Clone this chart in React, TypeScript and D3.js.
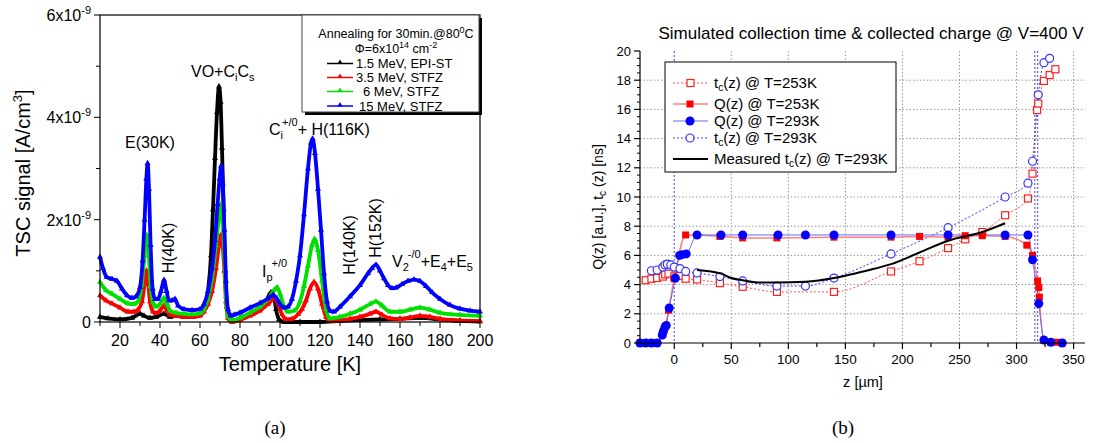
import React from "react";
import * as d3 from "d3";

// ---------- panel (a): TSC spectra, values in 1e-9 A/cm^3 ----------
const tscEpi15 = [
  [10, 0.1], [14, 0.07], [20, 0.05], [26, 0.08], [30, 0.16], [32, 0.12], [35, 0.08], [38, 0.1],
  [42, 0.16], [45, 0.1], [48, 0.12], [52, 0.1], [56, 0.1], [60, 0.14], [62, 0.25], [64, 0.6],
  [65.5, 1.3], [66.5, 2.2], [67.5, 3.2], [68.5, 4.1], [69.5, 4.6], [70.3, 4.3], [71, 3.4],
  [71.8, 2.2], [72.6, 1.0], [73.5, 0.3], [75, 0.05], [77, 0.02], [80, 0.08], [85, 0.15],
  [90, 0.25], [93, 0.4], [95.5, 0.58], [97, 0.5], [98, 0.25], [99.5, 0.05], [102, 0.0],
  [110, 0.0], [120, 0.0], [130, 0.02], [140, 0.04], [150, 0.05], [160, 0.06], [170, 0.08],
  [180, 0.05], [190, 0.02], [200, 0.01],
];
const tscStfz35 = [
  [10, 0.52], [13, 0.42], [16, 0.36], [20, 0.28], [24, 0.2], [27, 0.2], [29, 0.24], [31, 0.4],
  [32.3, 0.75], [33.2, 1.0], [34, 0.8], [35, 0.4], [36.5, 0.2], [38, 0.17], [40, 0.22], [42, 0.32],
  [43.5, 0.22], [45, 0.14], [48, 0.12], [52, 0.1], [56, 0.1], [60, 0.12], [62, 0.2], [64, 0.35],
  [66, 0.6], [68, 1.05], [69.5, 1.5], [70.5, 1.7], [71.3, 1.5], [72.2, 1.0], [73, 0.4], [74, 0.08],
  [76, 0.0], [80, 0.04], [85, 0.12], [90, 0.22], [94, 0.35], [97, 0.45], [99, 0.35], [101, 0.15],
  [103, 0.05], [106, 0.06], [109, 0.15], [111, 0.25], [113, 0.42], [115, 0.65], [117, 0.78],
  [119, 0.65], [121, 0.35], [123, 0.1], [125, 0.02], [130, 0.03], [135, 0.06], [140, 0.1],
  [145, 0.16], [148, 0.2], [151, 0.14], [155, 0.07], [160, 0.06], [165, 0.09], [170, 0.12],
  [175, 0.1], [180, 0.06], [190, 0.03], [200, 0.02],
];
const tscStfz6 = [
  [10, 0.78], [13, 0.62], [16, 0.55], [20, 0.45], [24, 0.36], [27, 0.35], [29, 0.4], [31, 0.75],
  [32.3, 1.3], [33.3, 1.7], [34.3, 1.4], [35.3, 0.7], [36.5, 0.38], [38, 0.3], [40, 0.35],
  [42, 0.47], [43.5, 0.35], [45, 0.22], [48, 0.18], [52, 0.16], [56, 0.15], [60, 0.17], [62, 0.25],
  [64, 0.45], [66, 0.85], [68, 1.5], [69.5, 2.05], [70.5, 2.3], [71.3, 2.0], [72.2, 1.3], [73, 0.5],
  [74, 0.12], [76, 0.03], [80, 0.08], [85, 0.18], [90, 0.3], [94, 0.45], [97, 0.62], [98.5, 0.68],
  [100, 0.55], [102, 0.3], [104, 0.2], [107, 0.22], [110, 0.4], [112, 0.7], [114, 1.1], [116, 1.5],
  [117.3, 1.62], [119, 1.4], [121, 0.8], [123, 0.25], [125, 0.07], [130, 0.1], [135, 0.16],
  [140, 0.24], [145, 0.35], [148, 0.4], [151, 0.32], [155, 0.2], [160, 0.2], [165, 0.24],
  [170, 0.28], [175, 0.24], [180, 0.18], [190, 0.14], [200, 0.12],
];
const tscStfz15 = [
  [10, 1.27], [11.5, 1.05], [13.3, 0.88], [16, 0.84], [18.5, 0.8], [21, 0.65], [23.5, 0.52],
  [26, 0.47], [28, 0.5], [30, 0.68], [31.3, 1.2], [32.3, 2.0], [33.2, 2.8], [33.8, 3.1], [34.5, 2.6],
  [35.3, 1.5], [36.3, 0.65], [37.5, 0.45], [39, 0.45], [40.5, 0.6], [42, 0.82], [43.3, 0.6],
  [44.5, 0.42], [46, 0.42], [47.5, 0.45], [49, 0.32], [52, 0.25], [56, 0.23], [60, 0.25], [62, 0.35],
  [64, 0.6], [66, 1.05], [67.5, 1.6], [68.8, 2.3], [69.8, 2.8], [70.6, 3.05], [71.4, 2.7],
  [72.2, 1.8], [73, 0.8], [74, 0.25], [75.5, 0.12], [77, 0.14], [80, 0.18], [85, 0.28], [90, 0.37],
  [94, 0.46], [96.5, 0.53], [98.5, 0.45], [100, 0.35], [102, 0.28], [104, 0.3], [106, 0.45],
  [108, 0.8], [110, 1.3], [112, 2.1], [114, 3.0], [115.5, 3.5], [116.3, 3.58], [117.5, 3.3],
  [119, 2.6], [120.5, 1.8], [122, 0.95], [123.5, 0.4], [125, 0.22], [127, 0.2], [130, 0.3],
  [135, 0.5], [140, 0.72], [144, 0.95], [146, 1.05], [148, 1.12], [150, 1.0], [152, 0.85],
  [154, 0.72], [156, 0.66], [158, 0.67], [161, 0.74], [164, 0.8], [167, 0.83], [170, 0.8],
  [173, 0.7], [176, 0.58], [180, 0.45], [185, 0.33], [190, 0.26], [195, 0.22], [200, 0.2],
];
const tscSeries = [
  { label: "1.5 MeV, EPI-ST", color: "#000000", data: tscEpi15, indent: 0 },
  { label: "3.5 MeV, STFZ", color: "#ff0000", data: tscStfz35, indent: 0 },
  { label: "6 MeV, STFZ", color: "#00e000", data: tscStfz6, indent: 7 },
  { label: "15 MeV, STFZ", color: "#0000ff", data: tscStfz15, indent: 3 },
];
const tempMajor = [20, 40, 60, 80, 100, 120, 140, 160, 180, 200];
const tempMinor = [10, 30, 50, 70, 90, 110, 130, 150, 170, 190];
const tscMajor = [0, 2, 4, 6];
const tscMinor = [1, 3, 5];

// ---------- panel (b): collection time / charge ----------
const tc253 = [
  [-25, 4.3], [-20, 4.4], [-15, 4.45], [-10, 4.55], [-8, 4.7], [-5, 4.75], [0, 4.55], [5, 4.6],
  [10, 4.4], [20, 4.35], [40, 4.1], [60, 3.85], [90, 3.5], [140, 3.5], [190, 4.9], [215, 5.6],
  [240, 6.5], [255, 7.1], [270, 7.6], [290, 8.75], [310, 9.9], [314, 11.6], [318, 15.95],
  [319, 16.4], [324, 17.95], [329, 18.35], [334, 18.75],
];
const q253 = [
  [-30, 0], [-25, 0], [-20, 0], [-15, 0], [-10, 0.6], [-9, 0.9], [-8, 1.1], [-5, 2.25], [0, 4.4],
  [10, 7.4], [40, 7.3], [60, 7.2], [90, 7.2], [140, 7.25], [190, 7.25], [215, 7.3], [240, 7.25],
  [255, 7.35], [270, 7.35], [290, 7.3], [309, 6.7], [314, 6.0], [318.5, 4.25], [319.5, 3.8],
  [320, 3.15], [324, 0.2], [330, 0.05], [335, 0.05], [340, 0],
];
const q293 = [
  [-30, 0], [-25, 0], [-20, 0], [-15, 0], [-10.5, 0.55], [-9.6, 0.8], [-8, 1.1], [-7, 1.2],
  [-4.4, 2.4], [1, 4.45], [4.7, 6.0], [6.7, 6.05], [10.5, 6.1], [20, 7.4], [41, 7.4], [60, 7.4],
  [91, 7.4], [115, 7.4], [140, 7.4], [190, 7.4], [240, 7.4], [290, 7.4], [310, 7.4], [314, 5.7],
  [319.5, 2.7], [324, 0.2], [330, 0.05], [340, 0],
];
const tc293 = [
  [-20, 4.95], [-15, 5.0], [-10, 5.2], [-8, 5.35], [-6, 5.4], [-3, 5.35], [0, 5.2], [5, 5.1],
  [10, 4.9], [20, 4.8], [40, 4.55], [60, 4.25], [90, 3.9], [115, 3.9], [140, 4.45], [190, 6.1],
  [240, 7.9], [290, 10.0], [310, 10.95], [314, 12.45], [319, 17.0], [324, 19.2], [329, 19.5],
];
const tcMeasured = [
  [20, 5.0], [41, 4.75], [50, 4.45], [60, 4.3], [73, 4.15], [90, 4.15], [115, 4.2], [140, 4.45],
  [160, 4.8], [171, 5.0], [190, 5.4], [215, 6.2], [240, 7.0], [270, 7.6], [290, 8.2],
];
const zMajor = [0, 50, 100, 150, 200, 250, 300, 350];
const zMinor = [-25, 25, 75, 125, 175, 225, 275, 325];
const qMajor = [0, 2, 4, 6, 8, 10, 12, 14, 16, 18, 20];
const depletionEdges = [0, 316, 318.5];

const SANS = "Liberation Sans, Arial, sans-serif";

export default function App() {
  // panel (a) scales
  const xL = d3.scaleLinear().domain([10, 200]).range([100, 480]);
  const yL = d3.scaleLinear().domain([0, 6]).range([322, 15]);
  const lineL = d3
    .line<number[]>()
    .x((d) => xL(d[0]))
    .y((d) => yL(d[1]))
    .curve(d3.curveMonotoneX);
  const tri = d3.symbol().type(d3.symbolTriangle).size(16)();
  const triLegend = d3.symbol().type(d3.symbolTriangle).size(12)();

  // panel (b) scales
  const xR = d3.scaleLinear().domain([-30, 360]).range([640, 1085]);
  const yR = d3.scaleLinear().domain([0, 20]).range([343, 51]);
  const lineR = d3
    .line<number[]>()
    .x((d) => xR(d[0]))
    .y((d) => yR(d[1]));
  const smoothR = lineR.curve(d3.curveMonotoneX);
  const qMinor = d3.range(0, 20.01, 0.5).filter((v) => v % 2 !== 0);

  const openSquare = (d: number[], i: number) => (
    <rect key={i} x={xR(d[0]) - 3.5} y={yR(d[1]) - 3.5} width={7} height={7}
      fill="white" stroke="#ff2020" strokeWidth={1.2} />
  );
  const fullSquare = (d: number[], i: number) => (
    <rect key={i} x={xR(d[0]) - 3.5} y={yR(d[1]) - 3.5} width={7} height={7} fill="#ff0000" />
  );

  return (
    <svg width={1107} height={443} style={{ position: "absolute", left: 0, top: 0, background: "white" }}
      fontFamily={SANS}>
      {/* ================= panel (a) ================= */}
      <g>
        {tscSeries.map((s) => (
          <g key={s.label}>
            <path d={lineL(s.data) || ""} fill="none" stroke={s.color} strokeWidth={3.8} />
            {s.data.map((d, i) => (
              <path key={i} d={tri} transform={`translate(${xL(d[0])},${yL(d[1])})`} fill={s.color} />
            ))}
          </g>
        ))}

        {/* frame */}
        <rect x={100} y={15} width={380} height={307} fill="none" stroke="#000" strokeWidth={1.2} />
        {tempMajor.map((t) => (
          <g key={t}>
            <line x1={xL(t)} x2={xL(t)} y1={322} y2={328} stroke="#000" />
            <text x={xL(t)} y={346} fontSize={16} textAnchor="middle">{t}</text>
          </g>
        ))}
        {tempMinor.map((t) => (
          <line key={t} x1={xL(t)} x2={xL(t)} y1={322} y2={326} stroke="#000" />
        ))}
        {tscMajor.map((v) => (
          <g key={v}>
            <line x1={94} x2={100} y1={yL(v)} y2={yL(v)} stroke="#000" />
            {v === 0 ? (
              <text x={91} y={yL(v) + 6} fontSize={16} textAnchor="end">0</text>
            ) : (
              <text x={91} y={yL(v) + 6} fontSize={16} textAnchor="end">
                {v}x10<tspan dy={-7} fontSize={11}>-9</tspan>
              </text>
            )}
          </g>
        ))}
        {tscMinor.map((v) => (
          <line key={v} x1={96} x2={100} y1={yL(v)} y2={yL(v)} stroke="#000" />
        ))}
        <text x={290} y={371} fontSize={20} textAnchor="middle">Temperature [K]</text>
        <text transform="translate(30,173) rotate(-90)" fontSize={20} textAnchor="middle">
          TSC signal [A/cm<tspan dy={-8} fontSize={13}>3</tspan><tspan dy={8}>]</tspan>
        </text>

        {/* peak annotations */}
        <text x={150} y={148} fontSize={16} textAnchor="middle">E(30K)</text>
        <text x={191} y={77} fontSize={16}>
          VO+C<tspan dy={4} fontSize={11}>i</tspan><tspan dy={-4}>C</tspan>
          <tspan dy={4} fontSize={11}>s</tspan>
        </text>
        <text x={269} y={135} fontSize={16}>
          C<tspan dy={4} fontSize={11}>i</tspan><tspan dx={-1} dy={-13} fontSize={11}>+/0</tspan>
          <tspan dy={9}>+ H(116K)</tspan>
        </text>
        <text transform="translate(174,248) rotate(-90)" fontSize={16} textAnchor="middle">H(40K)</text>
        <text x={262} y={277} fontSize={16}>
          I<tspan dy={4} fontSize={11}>p</tspan><tspan dx={-1} dy={-14} fontSize={11}>+/0</tspan>
        </text>
        <text transform="translate(355,245) rotate(-90)" fontSize={16} textAnchor="middle">H(140K)</text>
        <text transform="translate(381,228) rotate(-90)" fontSize={16} textAnchor="middle">H(152K)</text>
        <text x={392} y={267} fontSize={16}>
          V<tspan dy={4} fontSize={11}>2</tspan><tspan dx={-1} dy={-13} fontSize={11}>-/0</tspan>
          <tspan dy={9}>+E</tspan><tspan dy={4} fontSize={11}>4</tspan>
          <tspan dy={-4}>+E</tspan><tspan dy={4} fontSize={11}>5</tspan>
        </text>

        {/* legend */}
        <rect x={305} y={18} width={177} height={97} fill="#000" />
        <rect x={302} y={15} width={177} height={97} fill="white" stroke="#444" />
        <text x={396} y={38} fontSize={12.5} textAnchor="middle">
          Annealing for 30min.@80<tspan dy={-5} fontSize={9}>0</tspan><tspan dy={5}>C</tspan>
        </text>
        <text x={396} y={53} fontSize={12.5} textAnchor="middle">
          Φ=6x10<tspan dy={-5} fontSize={9}>14</tspan><tspan dy={5}> cm</tspan>
          <tspan dy={-5} fontSize={9}>-2</tspan>
        </text>
        {tscSeries.map((s, i) => {
          const y = [63.5, 77.5, 91.5, 106][i];
          return (
            <g key={s.label}>
              <line x1={327} x2={353} y1={y} y2={y} stroke={s.color} strokeWidth={1.5} />
              <path d={triLegend} transform={`translate(340,${y - 1})`} fill={s.color} />
              <text x={356 + s.indent} y={y + 4.5} fontSize={13}>{s.label}</text>
            </g>
          );
        })}
      </g>

      {/* ================= panel (b) ================= */}
      <g>
        <text x={871} y={39} fontSize={17} textAnchor="middle">
          Simulated collection time &amp; collected charge @ V=400 V
        </text>
        {/* grid */}
        {zMajor.filter((z) => z !== 0).map((z) => (
          <line key={z} x1={xR(z)} x2={xR(z)} y1={51} y2={343} stroke="#999" strokeDasharray="1.5,2" />
        ))}
        {qMajor.filter((v) => v !== 0 && v !== 20).map((v) => (
          <line key={v} x1={640} x2={1085} y1={yR(v)} y2={yR(v)} stroke="#999" strokeDasharray="1.5,2" />
        ))}
        {depletionEdges.map((z) => (
          <line key={z} x1={xR(z)} x2={xR(z)} y1={51} y2={343} stroke="#5a5aff" strokeWidth={1.2}
            strokeDasharray="2,2" />
        ))}

        {/* series */}
        <path d={lineR(tc253) || ""} fill="none" stroke="#ff5050" strokeDasharray="2,2" />
        <path d={lineR(tc293) || ""} fill="none" stroke="#4040ff" strokeDasharray="2,2" />
        <path d={lineR(q253) || ""} fill="none" stroke="#ff8080" strokeWidth={1.5} />
        <path d={lineR(q293) || ""} fill="none" stroke="#6868ff" strokeWidth={1} />
        {tc253.map(openSquare)}
        {tc293.map((d, i) => (
          <circle key={i} cx={xR(d[0])} cy={yR(d[1])} r={4} fill="white" stroke="#3030ff" strokeWidth={1.2} />
        ))}
        {q253.map(fullSquare)}
        {q293.map((d, i) => (
          <circle key={i} cx={xR(d[0])} cy={yR(d[1])} r={4.5} fill="#0000ff" />
        ))}
        <path d={smoothR(tcMeasured) || ""} fill="none" stroke="#000" strokeWidth={2} />

        {/* axes */}
        <line x1={640} x2={640} y1={51} y2={343} stroke="#000" strokeWidth={1.2} />
        <line x1={640} x2={1085} y1={343} y2={343} stroke="#000" strokeWidth={1.2} />
        {qMajor.map((v) => (
          <g key={v}>
            <line x1={634} x2={640} y1={yR(v)} y2={yR(v)} stroke="#000" strokeWidth={1.2} />
            <text x={631} y={yR(v) + 4.5} fontSize={13} textAnchor="end">{v}</text>
          </g>
        ))}
        {qMinor.map((v) => (
          <line key={v} x1={637} x2={640} y1={yR(v)} y2={yR(v)} stroke="#000" />
        ))}
        {zMajor.map((z) => (
          <g key={z}>
            <line x1={xR(z)} x2={xR(z)} y1={343} y2={349} stroke="#000" strokeWidth={1.2} />
            <text x={xR(z)} y={364} fontSize={13.5} textAnchor="middle">{z}</text>
          </g>
        ))}
        {zMinor.map((z) => (
          <line key={z} x1={xR(z)} x2={xR(z)} y1={343} y2={347} stroke="#000" strokeWidth={1.2} />
        ))}
        <text x={863} y={387} fontSize={14.5} textAnchor="middle">z [µm]</text>
        <text transform="translate(603,207) rotate(-90)" fontSize={14} textAnchor="middle">
          Q(z) [a.u.], t<tspan dy={3} fontSize={10}>c</tspan><tspan dy={-3}> (z) [ns]</tspan>
        </text>

        {/* legend */}
        <rect x={665} y={62} width={231} height={110} fill="white" stroke="#000" />
        <line x1={673} x2={708} y1={83} y2={83} stroke="#ff5050" strokeDasharray="2,2" />
        <rect x={687} y={79.5} width={7} height={7} fill="white" stroke="#ff2020" strokeWidth={1.2} />
        <text x={714} y={88} fontSize={15}>t<tspan dy={3} fontSize={10}>c</tspan><tspan dy={-3}>(z) @ T=253K</tspan></text>
        <line x1={673} x2={708} y1={104} y2={104} stroke="#ff8080" strokeWidth={1.5} />
        <rect x={686.5} y={100.5} width={7} height={7} fill="#ff0000" />
        <text x={714} y={109} fontSize={15}>Q(z) @ T=253K</text>
        <line x1={673} x2={708} y1={121} y2={121} stroke="#6868ff" />
        <circle cx={690} cy={121} r={4.5} fill="#0000ff" />
        <text x={714} y={126} fontSize={15}>Q(z) @ T=293K</text>
        <line x1={673} x2={708} y1={138} y2={138} stroke="#4040ff" strokeDasharray="2,2" />
        <circle cx={690} cy={138} r={4} fill="white" stroke="#3030ff" strokeWidth={1.2} />
        <text x={714} y={143} fontSize={15}>t<tspan dy={3} fontSize={10}>c</tspan><tspan dy={-3}>(z) @ T=293K</tspan></text>
        <line x1={673} x2={708} y1={159} y2={159} stroke="#000" strokeWidth={2} />
        <text x={714} y={164} fontSize={15}>
          Measured t<tspan dy={3} fontSize={10}>c</tspan><tspan dy={-3}>(z) @ T=293K</tspan>
        </text>
      </g>

      {/* captions */}
      <text x={275} y={434} fontSize={19} fontFamily="Liberation Serif, Times New Roman, serif" textAnchor="middle">(a)</text>
      <text x={843} y={434} fontSize={19} fontFamily="Liberation Serif, Times New Roman, serif" textAnchor="middle">(b)</text>
    </svg>
  );
}
